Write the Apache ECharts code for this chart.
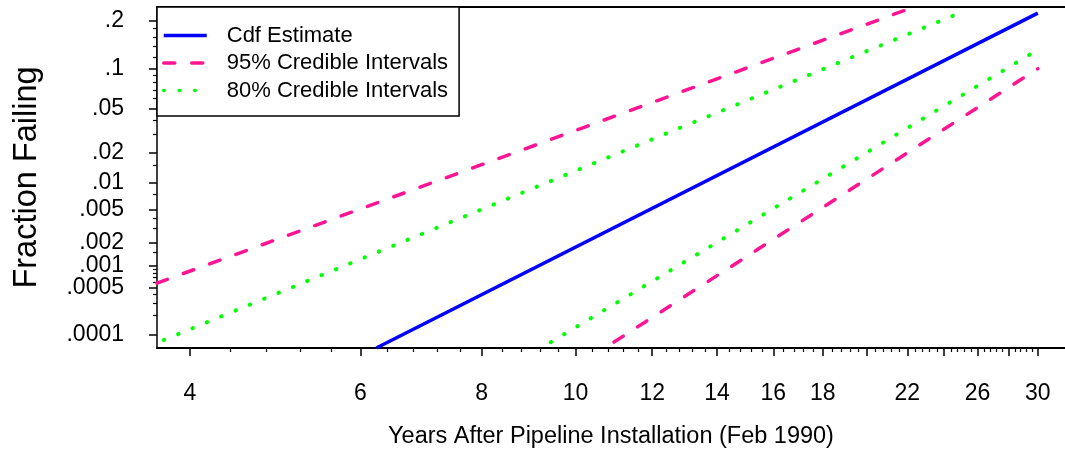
<!DOCTYPE html>
<html>
<head>
<meta charset="utf-8">
<script src="https://cdn.jsdelivr.net/npm/echarts@6/dist/echarts.min.js"></script>
<style>
html,body{margin:0;padding:0;background:#fff;}
#chart{width:1065px;height:464px;}
</style>
</head>
<body>
<div id="chart"></div>
<script>
// ---- data (years, fraction failing) ----
const cdfEstimate = [[6.23, 0.0000606], [30, 0.22]];
const ci95Upper = [[3.70, 0.00058], [22.3, 0.236]];
const ci95Lower = [[10.96, 0.0000755], [30, 0.10]];
const ci80Upper = [[3.76, 0.0000815], [25.27, 0.227]];
const ci80Lower = [[9.43, 0.000075], [30, 0.134]];

const seriesNames = ['Cdf Estimate', '95% Credible Intervals', '80% Credible Intervals'];

// ---- axis ticks ----
const xLabelValues = [4, 6, 8, 10, 12, 14, 16, 18, 22, 26, 30];
const xMajorTicks = [4, 6, 8, 10, 12, 14, 16, 18, 20, 22, 24, 26, 28, 30];
const xRange = [3.70, 32.0];
const yLabelValues = [0.2, 0.1, 0.05, 0.02, 0.01, 0.005, 0.002, 0.001, 0.0005, 0.0001];
const yLabelTexts = ['.2', '.1', '.05', '.02', '.01', '.005', '.002', '.001', '.0005', '.0001'];
const yMinorTicks = [0.18, 0.16, 0.14, 0.12, 0.09, 0.08, 0.07, 0.06, 0.04, 0.03, 0.015, 0.0075,
  0.004, 0.003, 0.0015, 0.0009, 0.0008, 0.0007, 0.0006, 0.0004, 0.0003, 0.0002];
const yRange = [0.0000606, 0.237];

// minor x ticks every 0.4 year between majors
const xMinorTicks = [];
for (let k = 0; k < 65; k++) {
  const v = Math.round((4 + 0.4 * k) * 10) / 10;
  if (v > 30) break;
  if (Math.abs(v / 2 - Math.round(v / 2)) > 1e-6) xMinorTicks.push(v);
}

// ---- lognormal probability scale (normal quantile) ----
function probit(p) {
  const a = [-3.969683028665376e+01, 2.209460984245205e+02, -2.759285104469687e+02, 1.383577518672690e+02, -3.066479806614716e+01, 2.506628277459239e+00];
  const b = [-5.447609879822406e+01, 1.615858368580409e+02, -1.556989798598866e+02, 6.680131188771972e+01, -1.328068155288572e+01];
  const c = [-7.784894002430293e-03, -3.223964580411365e-01, -2.400758277161838e+00, -2.549732539343734e+00, 4.374664141464968e+00, 2.938163982698783e+00];
  const d = [7.784695709041462e-03, 3.224671290700398e-01, 2.445134137142996e+00, 3.754408661907416e+00];
  const pl = 0.02425, ph = 1 - pl;
  let q, r;
  if (p < pl) {
    q = Math.sqrt(-2 * Math.log(p));
    return (((((c[0] * q + c[1]) * q + c[2]) * q + c[3]) * q + c[4]) * q + c[5]) / ((((d[0] * q + d[1]) * q + d[2]) * q + d[3]) * q + 1);
  }
  if (p <= ph) {
    q = p - 0.5; r = q * q;
    return (((((a[0] * r + a[1]) * r + a[2]) * r + a[3]) * r + a[4]) * r + a[5]) * q / (((((b[0] * r + b[1]) * r + b[2]) * r + b[3]) * r + b[4]) * r + 1);
  }
  q = Math.sqrt(-2 * Math.log(1 - p));
  return -(((((c[0] * q + c[1]) * q + c[2]) * q + c[3]) * q + c[4]) * q + c[5]) / ((((d[0] * q + d[1]) * q + d[2]) * q + d[3]) * q + 1);
}
const tx = v => Math.log10(v);
const ty = p => probit(p);
const toXY = arr => arr.map(pt => [tx(pt[0]), ty(pt[1])]);

const FONT = "'Liberation Sans', Arial, Helvetica, sans-serif";
const xMin = tx(xRange[0]), xMax = tx(xRange[1]);
const yMin = ty(yRange[0]), yMax = ty(yRange[1]);
const yLabelZ = yLabelValues.map(ty);

const BLUE = '#0000ff', PINK = '#ff1493', GREEN = '#00ff00';

const chart = echarts.init(document.getElementById('chart'), null, {renderer: 'canvas'});
const option = {
  animation: false,
  backgroundColor: '#fff',
  grid: {left: 157, top: 7, right: 0, bottom: 116, containLabel: false},
  legend: {
    orient: 'vertical', left: 157, top: 7,
    backgroundColor: '#fff', borderColor: '#000', borderWidth: 1.5, borderRadius: 0,
    padding: [17.5, 11, 14.5, 5],
    itemWidth: 43, itemHeight: 14, itemGap: 5.5,
    itemStyle: {color: 'rgba(0,0,0,0)', borderWidth: 0, opacity: 0},
    lineStyle: {width: 3.5},
    textStyle: {fontFamily: FONT, fontSize: 22, color: '#000', padding: [0, 0, 0, 15]},
    data: seriesNames
  },
  xAxis: [
    {
      type: 'value', min: xMin, max: xMax, position: 'bottom',
      name: 'Years After Pipeline Installation (Feb 1990)', nameLocation: 'middle', nameGap: 77,
      nameTextStyle: {fontFamily: FONT, fontSize: 23.5, color: '#000'},
      axisLine: {show: true, onZero: false, lineStyle: {color: '#000', width: 2}},
      axisTick: {show: true, length: 8, customValues: xMajorTicks.map(tx), lineStyle: {color: '#000', width: 1.5}},
      axisLabel: {show: true, margin: 34.5, fontFamily: FONT, fontSize: 23, color: '#000',
        customValues: xLabelValues.map(tx),
        formatter: v => String(Math.round(Math.pow(10, v)))},
      splitLine: {show: false}
    },
    {
      type: 'value', min: xMin, max: xMax, position: 'bottom',
      axisLine: {show: false, onZero: false},
      axisTick: {show: true, length: 4, customValues: xMinorTicks.map(tx), lineStyle: {color: '#000', width: 1.2}},
      axisLabel: {show: false},
      splitLine: {show: false}
    },
    {
      type: 'value', min: xMin, max: xMax, position: 'top',
      axisLine: {show: true, onZero: false, lineStyle: {color: '#000', width: 2}},
      axisTick: {show: false}, axisLabel: {show: false}, splitLine: {show: false}
    }
  ],
  yAxis: [
    {
      type: 'value', min: yMin, max: yMax, position: 'left',
      name: 'Fraction Failing', nameLocation: 'middle', nameGap: 113, nameRotate: 90,
      nameTextStyle: {fontFamily: FONT, fontSize: 32.5, color: '#000'},
      axisLine: {show: true, onZero: false, lineStyle: {color: '#000', width: 1.5}},
      axisTick: {show: true, length: 8, customValues: yLabelZ, lineStyle: {color: '#000', width: 1.5}},
      axisLabel: {show: true, margin: 33, fontFamily: FONT, fontSize: 23, color: '#000',
        customValues: yLabelZ,
        formatter: v => {
          let best = 0, bd = Infinity;
          yLabelZ.forEach((z, i) => { const dd = Math.abs(z - v); if (dd < bd) { bd = dd; best = i; } });
          return yLabelTexts[best];
        }},
      splitLine: {show: false}
    },
    {
      type: 'value', min: yMin, max: yMax, position: 'left', offset: 0,
      axisLine: {show: false, onZero: false},
      axisTick: {show: true, length: 4, customValues: yMinorTicks.map(ty), lineStyle: {color: '#000', width: 1.2}},
      axisLabel: {show: false},
      splitLine: {show: false}
    }
  ],
  series: [
    {
      name: seriesNames[0], type: 'line', data: toXY(cdfEstimate), xAxisIndex: 0, yAxisIndex: 0,
      showSymbol: false, symbol: 'none', clip: true, z: 3,
      lineStyle: {color: BLUE, width: 3.5, type: 'solid'}, itemStyle: {color: BLUE}
    },
    {
      name: seriesNames[1], type: 'line', data: toXY(ci95Upper), xAxisIndex: 0, yAxisIndex: 0,
      showSymbol: false, symbol: 'none', clip: true,
      lineStyle: {color: PINK, width: 3.5, type: [11, 17], cap: 'round'}, itemStyle: {color: PINK}
    },
    {
      name: seriesNames[1], type: 'line', data: toXY(ci95Lower), xAxisIndex: 0, yAxisIndex: 0,
      showSymbol: false, symbol: 'none', clip: true,
      lineStyle: {color: PINK, width: 3.5, type: [11, 17], cap: 'round'}, itemStyle: {color: PINK}
    },
    {
      name: seriesNames[2], type: 'line', data: toXY(ci80Upper), xAxisIndex: 0, yAxisIndex: 0,
      showSymbol: false, symbol: 'none', clip: true,
      lineStyle: {color: GREEN, width: 4, type: [0.5, 15], cap: 'round'}, itemStyle: {color: GREEN}
    },
    {
      name: seriesNames[2], type: 'line', data: toXY(ci80Lower), xAxisIndex: 0, yAxisIndex: 0,
      showSymbol: false, symbol: 'none', clip: true,
      lineStyle: {color: GREEN, width: 4, type: [0.5, 15], cap: 'round'}, itemStyle: {color: GREEN}
    }
  ]
};
chart.setOption(option);
</script>
</body>
</html>
